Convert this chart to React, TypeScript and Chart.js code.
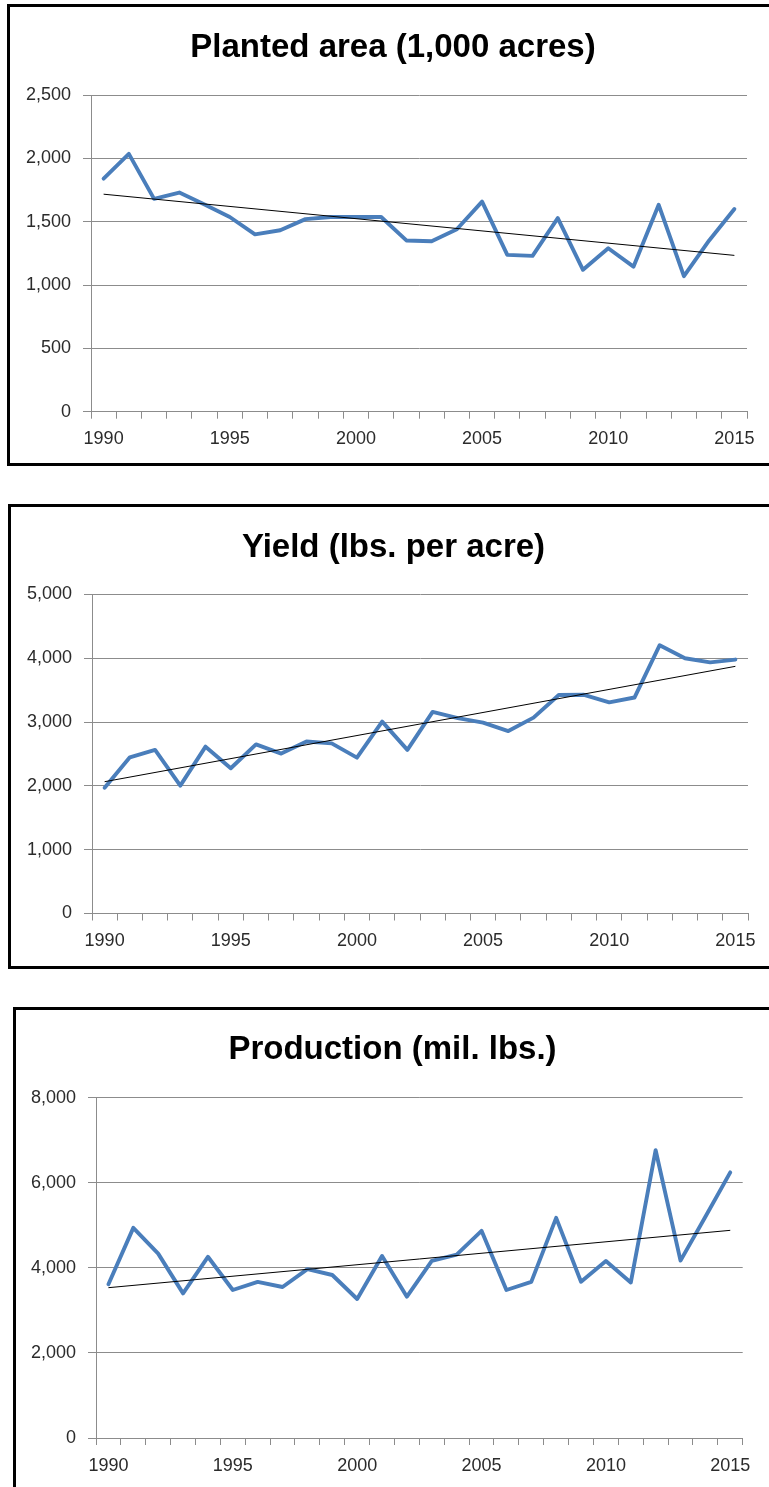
import React, { useEffect, useRef } from "react";
import { Chart, registerables } from "chart.js";

Chart.register(...registerables);

// ---- data ----
const years = [
  "1990", "1991", "1992", "1993", "1994", "1995", "1996", "1997", "1998", "1999",
  "2000", "2001", "2002", "2003", "2004", "2005", "2006", "2007", "2008", "2009",
  "2010", "2011", "2012", "2013", "2014", "2015",
];
const xTickLabels = ["1990", "1995", "2000", "2005", "2010", "2015"];

const plantedArea = [
  1840, 2035, 1680, 1730, 1635, 1537, 1400, 1432, 1520, 1537,
  1537, 1537, 1352, 1345, 1440, 1658, 1238, 1230, 1528, 1120,
  1290, 1145, 1633, 1070, 1352, 1600,
];
const plantedAreaTrend = [1717, 1234];
const plantedAreaTicks = [0, 500, 1000, 1500, 2000, 2500];

const yieldValues = [
  1972, 2448, 2565, 2004, 2615, 2277, 2651, 2507, 2695, 2667,
  2443, 3007, 2565, 3160, 3062, 2992, 2860, 3070, 3425, 3428,
  3310, 3385, 4205, 4000, 3937, 3980,
];
const yieldTrend = [2066, 3874];
const yieldTicks = [0, 1000, 2000, 3000, 4000, 5000];

const production = [
  3613, 4940, 4335, 3400, 4260, 3479, 3670, 3550, 3970, 3832,
  3268, 4280, 3322, 4165, 4310, 4870, 3479, 3670, 5175, 3675,
  4160, 3655, 6765, 4170, 5200, 6245,
];
const productionTrend = [3534, 4882];
const productionTicks = [0, 2000, 4000, 6000, 8000];

const FONT = "'Liberation Sans', Arial, sans-serif";
const LINE_BLUE = "#4a7ebb";
const GRID = "#8c8c8c";
const TEXT = "#2b2b2b";

type PanelProps = {
  title: string;
  values: number[];
  trend: number[];
  ticks: number[];
  box: { left: number; top: number; width: number; height: number };
  yWidth: number;
  xHeight: number;
  padRight: number;
  titleTop: number;
  titleBottom: number;
};

function Panel(p: PanelProps) {
  const ref = useRef<HTMLCanvasElement | null>(null);
  const border = 3;
  const cw = p.box.width - border * 2;
  const ch = p.box.height - border * 2;

  useEffect(() => {
    if (!ref.current) return;
    const trendData: (number | null)[] = years.map(() => null);
    trendData[0] = p.trend[0];
    trendData[years.length - 1] = p.trend[1];
    const chart = new Chart(ref.current, {
      type: "line",
      data: {
        labels: years,
        datasets: [
          {
            data: trendData,
            borderColor: "#000000",
            borderWidth: 1,
            pointRadius: 0,
            spanGaps: true,
            tension: 0,
            yAxisID: "y",
          },
          {
            data: p.values,
            borderColor: LINE_BLUE,
            borderWidth: 3.9,
            pointRadius: 0,
            tension: 0,
            borderJoinStyle: "round",
            borderCapStyle: "round",
            yAxisID: "y",
          },
        ],
      },
      options: {
        animation: false,
        responsive: false,
        devicePixelRatio: 1,
        layout: { padding: 0 },
        plugins: {
          legend: { display: false },
          tooltip: { enabled: false },
          title: {
            display: true,
            text: p.title,
            color: "#000000",
            font: { family: FONT, size: 33, weight: "bold", lineHeight: 1.2 },
            padding: { top: p.titleTop, bottom: p.titleBottom },
          },
        },
        scales: {
          x: {
            type: "category",
            offset: true,
            grid: {
              offset: true,
              drawOnChartArea: false,
              drawTicks: true,
              tickLength: 7,
              color: GRID,
              lineWidth: 1,
            },
            border: { display: true, color: GRID, width: 1 },
            ticks: {
              autoSkip: false,
              maxRotation: 0,
              minRotation: 0,
              padding: 10,
              color: TEXT,
              font: { family: FONT, size: 18 },
              callback: (_v: any, i: number) =>
                xTickLabels.includes(years[i]) ? years[i] : "",
            },
            afterFit: (s: any) => {
              s.height = p.xHeight;
            },
          },
          y: {
            position: "left",
            min: p.ticks[0],
            max: p.ticks[p.ticks.length - 1],
            grid: {
              color: GRID,
              lineWidth: 1,
              drawTicks: true,
              tickLength: 8,
            },
            border: { display: true, color: GRID, width: 1 },
            ticks: {
              stepSize: p.ticks[1] - p.ticks[0],
              padding: 12,
              color: TEXT,
              font: { family: FONT, size: 18 },
              callback: (v: any) => Number(v).toLocaleString("en-US"),
            },
            afterFit: (s: any) => {
              s.width = p.yWidth;
            },
          },
          spacer: {
            type: "linear",
            position: "right",
            display: true,
            grid: { display: false, drawTicks: false },
            border: { display: false },
            ticks: { display: false },
            afterFit: (s: any) => {
              s.width = p.padRight;
            },
          },
        },
      },
    });
    return () => chart.destroy();
  }, []);

  return (
    <div
      style={{
        position: "absolute",
        left: p.box.left,
        top: p.box.top,
        width: p.box.width,
        height: p.box.height,
        boxSizing: "border-box",
        border: `${border}px solid #000`,
        background: "#fff",
      }}
    >
      <canvas
        ref={ref}
        width={cw}
        height={ch}
        style={{ display: "block", width: cw, height: ch }}
      />
    </div>
  );
}

export default function App() {
  useEffect(() => {
    document.body.style.overflow = "hidden";
  }, []);
  return (
    <div
      style={{
        position: "absolute",
        left: 0,
        top: 0,
        width: 769,
        height: 1487,
        overflow: "hidden",
        background: "#fff",
      }}
    >
      <Panel
        title="Planted area (1,000 acres)"
        values={plantedArea}
        trend={plantedAreaTrend}
        ticks={plantedAreaTicks}
        box={{ left: 7, top: 4, width: 772, height: 462 }}
        yWidth={81}
        xHeight={51.3}
        padRight={29}
        titleTop={21.5}
        titleBottom={26.9}
      />
      <Panel
        title="Yield (lbs. per acre)"
        values={yieldValues}
        trend={yieldTrend}
        ticks={yieldTicks}
        box={{ left: 8, top: 504, width: 771, height: 465 }}
        yWidth={81}
        xHeight={52.5}
        padRight={28}
        titleTop={21.5}
        titleBottom={26.4}
      />
      <Panel
        title="Production (mil. lbs.)"
        values={production}
        trend={productionTrend}
        ticks={productionTicks}
        box={{ left: 13, top: 1007, width: 759, height: 493 }}
        yWidth={80}
        xHeight={59}
        padRight={26.3}
        titleTop={20.5}
        titleBottom={27.6}
      />
    </div>
  );
}
